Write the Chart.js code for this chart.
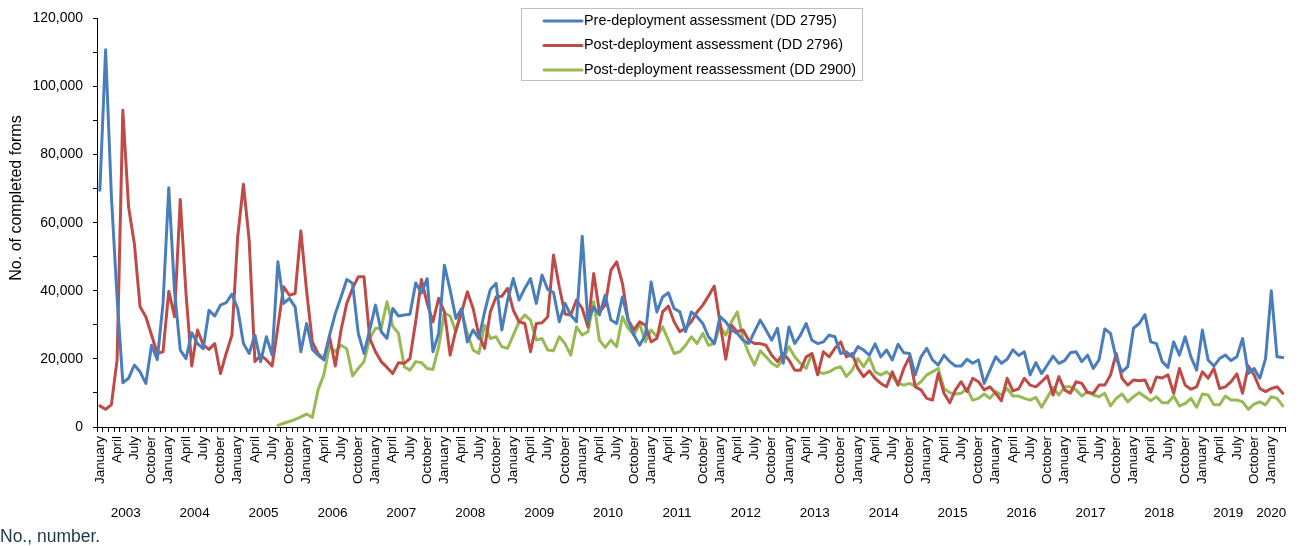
<!DOCTYPE html>
<html>
<head>
<meta charset="utf-8">
<script src="https://cdn.jsdelivr.net/npm/chart.js@4.4.1/dist/chart.umd.min.js"></script>
<style>
html,body{margin:0;padding:0;background:#fff;}
#wrap{position:relative;width:1303px;height:546px;}
</style>
</head>
<body>
<div id="wrap"><canvas id="c" width="1303" height="546"></canvas></div>
<script>
// ---------- data ----------
const monthNames = ['January','February','March','April','May','June','July','August','September','October','November','December'];
const firstYear = 2003;
const monthCount = 207; // January 2003 - March 2020
const categories = Array.from({length: monthCount}, (_, i) => monthNames[i % 12] + ' ' + (firstYear + Math.floor(i / 12)));

const seriesNames = [
  'Pre-deployment assessment (DD 2795)',
  'Post-deployment assessment (DD 2796)',
  'Post-deployment reassessment (DD 2900)'
];

const preDeployment = [
  69500,110800,68000,38000,13000,14300,18200,16200,12800,24000,19800,36300,
  70300,40000,22600,20100,27700,24500,23000,34300,32600,35800,36500,39000,
  34800,24500,21600,27000,19200,26500,21100,48500,36300,37800,35300,22100,
  30400,22800,21100,19700,27000,33300,38200,43300,42200,27500,21600,28500,
  35800,28000,26000,34800,32600,32900,33100,42300,39400,43600,22100,27500,
  47500,40200,31900,34800,25000,28500,26000,33800,40400,42200,28500,37300,
  43600,37300,40700,43600,36300,44600,40400,39500,30900,36300,32900,30900,
  56000,30900,35300,32900,38700,31400,30400,38200,31400,27000,24000,27000,
  42600,33800,38200,39400,34800,33800,28000,33800,32400,30400,26500,24500,
  32400,30900,28500,27500,25500,24500,28000,31400,28500,25500,29000,18700,
  29400,24500,27000,30400,25500,24500,25000,27000,26500,21600,22100,20600,
  23600,22600,21100,24400,20600,22600,19700,24300,21800,21600,15300,20600,
  23100,19700,18200,21100,19200,17900,17900,19900,18700,19700,12800,16700,
  20600,18700,19900,22700,21000,22100,15300,18900,15700,18200,20800,18700,
  19500,21800,22100,19200,21100,17200,19700,28800,27500,20100,16200,17700,
  29000,30400,33000,25000,24500,19200,17500,25000,21100,26500,20600,16700,
  28500,19700,17900,20100,21100,19500,20600,26000,15700,17200,14300,20100,
  40000,20600,20400
];

const postDeployment = [
  6200,5200,6500,19700,93000,64600,53900,35300,32400,27000,21600,22100,
  39900,32400,66800,39200,17900,28500,24100,22800,24500,15700,21600,27000,
  55800,71300,54900,19200,21100,19700,17900,29400,41200,38700,39200,57600,
  40000,25000,21600,19900,26500,17900,28500,36300,40700,44100,44100,26000,
  22100,19200,17500,15700,18900,18700,20100,31000,43300,36300,30900,37800,
  33800,21100,28500,33800,39700,34800,27000,23100,33800,38200,38400,40700,
  34300,30900,30400,22100,30400,30600,32400,50500,41200,33200,32900,37300,
  34800,29400,45100,33800,35800,46100,48500,42200,31400,28500,30900,29900,
  25000,26000,33800,35500,30900,28000,29000,30900,33800,35800,38500,41400,
  30600,19900,29900,28000,28500,25500,24500,24500,24000,21100,19200,21600,
  19700,16700,16700,20600,21600,15300,22100,20600,23100,25000,20600,21600,
  17200,14800,16500,14300,12800,11800,16200,12300,17200,20600,11800,10900,
  8400,7900,15700,9900,7100,10900,13300,10400,14300,13300,10900,11800,
  9900,7700,14300,10600,11200,14300,12300,11800,13300,15000,9400,14800,
  10900,9900,13300,12800,10100,9900,12300,12300,15300,21600,14300,12300,
  13800,13600,13800,10200,14700,14400,15300,9900,17200,12300,11100,11800,
  16200,14300,17200,11300,11800,13300,15600,9900,17900,15300,11300,10400,
  11300,11800,9900
];

const reassessment = [
  null,null,null,null,null,null,null,null,null,null,null,null,
  null,null,null,null,null,null,null,null,null,null,null,null,
  null,null,null,null,null,null,null,500,1100,1600,2200,3000,
  3800,2800,10900,15300,23800,22100,24000,23000,15000,17200,19200,26000,
  29000,29000,36800,29600,27500,17700,16700,19200,18900,17200,16900,23600,
  33500,32600,28000,33800,27500,22600,21600,29900,26000,26500,23600,23100,
  27000,30900,32900,31400,25500,26000,22600,22400,26500,24500,21100,29400,
  27000,28000,36800,25500,23400,25500,23600,32400,29000,27000,30400,25000,
  28500,26500,29400,25500,21600,22100,24000,26500,24500,27500,24000,24500,
  29600,27000,30900,33800,26000,21600,18200,22400,20600,18700,17700,20100,
  23600,20600,18700,17200,21600,16200,15700,16200,17200,17700,14800,16700,
  20100,17700,20400,16200,15300,16200,14800,12800,12300,12800,12000,13300,
  15300,16200,17200,11300,10100,9700,9900,11300,7900,8400,9700,8400,
  10400,9400,11300,9100,9100,8400,7900,8700,5800,8700,11600,9400,
  11800,11800,10900,9100,10400,9400,8900,9900,6200,8400,9700,7400,
  8900,10100,8900,7700,8900,7100,7100,9100,6200,6900,8400,5800,
  9700,9400,6500,6500,9100,7900,7900,7400,5200,6700,7400,6500,
  8900,8400,6200
];

const yAxisTitle = 'No. of completed forms';
const footnote = 'No., number.';

// ---------- styling ----------
const FONT = '"Liberation Sans", Arial, Helvetica, sans-serif';
const colors = ['#4A7EBB', '#BE4B48', '#98B954'];

const overlay = {
  id: 'overlay',
  afterDraw(chart) {
    const ctx = chart.ctx;
    const xs = chart.scales.x;
    const n = categories.length;
    ctx.save();
    // year labels, centred under that year's quarter labels
    ctx.fillStyle = '#000';
    ctx.font = '13.5px ' + FONT;
    ctx.textAlign = 'center';
    ctx.textBaseline = 'middle';
    for (let k = 0; k * 12 < n; k++) {
      const idx = [0, 3, 6, 9].map(m => k * 12 + m).filter(i => i < n);
      const cx = idx.reduce((s, i) => s + xs.getPixelForValue(i), 0) / idx.length;
      ctx.fillText(String(firstYear + k), cx, 513);
    }
    // y-axis title
    ctx.save();
    ctx.translate(17, 198);
    ctx.rotate(-Math.PI / 2);
    ctx.font = '16px ' + FONT;
    ctx.fillText(yAxisTitle, 0, 0);
    ctx.restore();
    // footnote
    ctx.textAlign = 'left';
    ctx.font = '17.5px ' + FONT;
    ctx.fillStyle = '#1b3a47';
    ctx.fillText(footnote, 0, 537);
    // legend
    ctx.strokeStyle = '#BFBFBF';
    ctx.lineWidth = 1;
    ctx.strokeRect(521.5, 8.5, 341, 72);
    ctx.font = '14.4px ' + FONT;
    ctx.fillStyle = '#000';
    chart.data.datasets.forEach((ds, i) => {
      const y = 21 + i * 24.5;
      ctx.strokeStyle = ds.borderColor;
      ctx.lineWidth = 3;
      ctx.lineCap = 'round';
      ctx.beginPath();
      ctx.moveTo(544, y);
      ctx.lineTo(582, y);
      ctx.stroke();
      ctx.fillText(ds.label, 584, y);
    });
    ctx.restore();
  }
};

const mkDs = (label, data, color) => ({
  label, data,
  borderColor: color,
  backgroundColor: color,
  borderWidth: 3,
  pointRadius: 0,
  pointHoverRadius: 0,
  tension: 0,
  fill: false,
  spanGaps: false,
  borderJoinStyle: 'round',
  borderCapStyle: 'round'
});

new Chart(document.getElementById('c'), {
  type: 'line',
  data: {
    labels: categories,
    datasets: [
      mkDs(seriesNames[0], preDeployment, colors[0]),
      mkDs(seriesNames[1], postDeployment, colors[1]),
      mkDs(seriesNames[2], reassessment, colors[2])
    ]
  },
  options: {
    responsive: false,
    animation: false,
    devicePixelRatio: 1,
    layout: { padding: { top: 17, right: 8, left: 0, bottom: 0 } },
    plugins: { legend: { display: false }, tooltip: { enabled: false }, title: { display: false } },
    scales: {
      x: {
        type: 'category',
        offset: true,
        grid: { display: true, drawOnChartArea: false, drawTicks: true, tickLength: 5, color: '#000', offset: true },
        border: { display: true, color: '#000', width: 1 },
        ticks: {
          autoSkip: false,
          maxRotation: 90,
          minRotation: 90,
          padding: 4,
          color: '#000',
          font: { family: FONT, size: 13.5 },
          callback: function (v, i) { return (i % 3 === 0) ? monthNames[i % 12] : ''; }
        },
        afterFit: s => { s.height = 119; }
      },
      y: {
        min: 0, max: 120000,
        grid: { display: true, drawOnChartArea: false, drawTicks: true, tickLength: 4, color: '#000' },
        border: { display: true, color: '#000', width: 1 },
        ticks: {
          stepSize: 10000,
          padding: 10,
          color: '#000',
          font: { family: FONT, size: 14 },
          callback: v => (v % 20000 === 0 ? v.toLocaleString('en-US') : '')
        },
        afterFit: s => { s.width = 97; }
      }
    }
  },
  plugins: [overlay]
});
</script>
</body>
</html>
